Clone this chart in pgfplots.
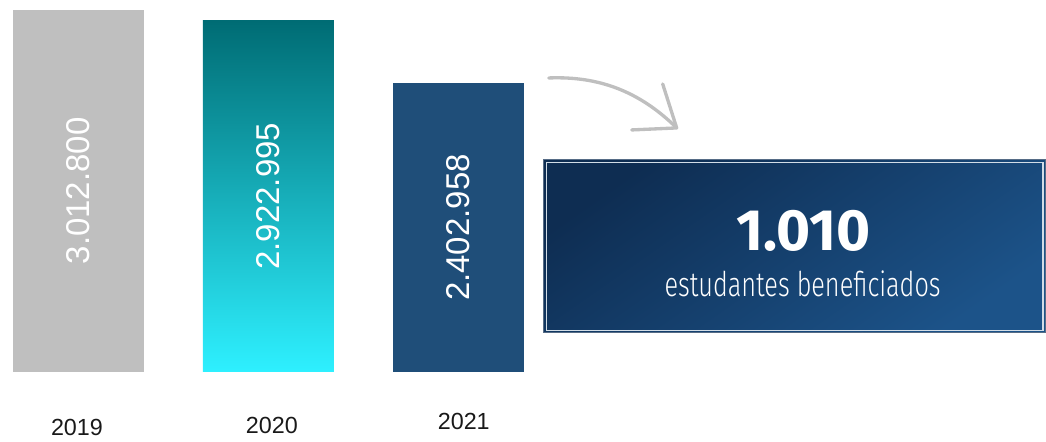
\documentclass[border=0pt]{standalone}
\usepackage{pgfplots}
\pgfplotsset{compat=1.18}
\usepackage{fontspec}
\setmainfont{Liberation Sans}
\newfontfamily\bigfont{Fira Sans}
\newfontfamily\descfont{Fira Sans Light}[FakeStretch=0.74]

\definecolor{bargray}{HTML}{BFBFBF}
\definecolor{tealtop}{HTML}{006C74}
\definecolor{tealmid}{HTML}{00B6C5}
\definecolor{tealbot}{HTML}{2EF0FF}
\definecolor{navy}{HTML}{1F4E79}
\definecolor{boxdark}{HTML}{0E2D52}
\definecolor{boxlight}{HTML}{1C5389}
\tikzset{barlabel/.style={rotate=90, anchor=center, text=white, font=\fontsize{19.8}{20}\selectfont}}

\begin{document}
\begin{tikzpicture}
\begin{axis}[
    scale only axis,
    width=627.6pt, height=262.2pt,
    hide axis,
    clip=false,
    xmin=-0.41316, xmax=5.09211,
    ymin=-540972, ymax=3096027,
    ybar, bar width=0.6895, bar shift=0pt,
]
\addplot[draw=none, fill=bargray] coordinates {(0,3012800)};
\addplot[draw=none, top color=tealtop, middle color=tealmid, bottom color=tealbot] coordinates {(1,2922995)};
\addplot[draw=none, fill=navy] coordinates {(2,2402958)};
% value labels, centred in each bar
\node[barlabel] at (axis cs:0,1506400) {3.012.800};
\node[barlabel] at (axis cs:1,1461497) {2.922.995};
\node[barlabel] at (axis cs:2,1201479) {2.402.958};
\end{axis}
\begin{scope}[shift={(current axis.north west)}, x=0.6pt, y=-0.6pt]
  \path (0,0) rectangle (1046,437);
  % year labels
  \node[text=black!90, font=\fontsize{14}{14}\selectfont] at (77,428) {2019};
  \node[text=black!90, font=\fontsize{14}{14}\selectfont] at (272,426) {2020};
  \node[text=black!90, font=\fontsize{14}{14}\selectfont] at (464,422) {2021};
  % arrow
  \draw[bargray, line width=2pt, line cap=round]
    (549,78) .. controls (600,76) and (640,92) .. (676,127);
  \draw[bargray, line width=2pt, line cap=round, line join=round]
    (663,84) -- (677,128) -- (632,130);
  % highlight box
  \shade[shading=axis, top color=boxdark, bottom color=boxlight, shading angle=35]
    (544,160) rectangle (1046,333);
  \draw[boxdark!70!white, line width=0.6pt] (544,160) rectangle (1046,333);
  \draw[white!80!boxlight, line width=0.8pt] (546.5,162.5) rectangle (1043.5,330.5);
  \node[text=white, font=\bigfont\bfseries\fontsize{35}{35}\selectfont] at (804,231) {1.010};
  \node[text=white, font=\descfont\fontsize{20.5}{21}\selectfont] at (803,284) {estudantes beneficiados};
\end{scope}
\end{tikzpicture}
\end{document}
